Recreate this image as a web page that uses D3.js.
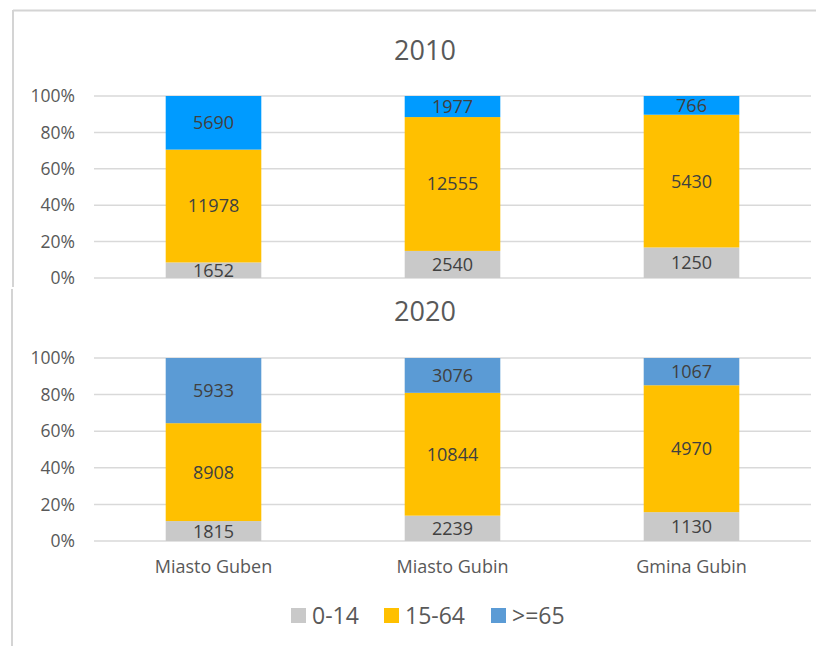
<!DOCTYPE html>
<html>
<head>
<meta charset="utf-8">
<script src="https://cdn.jsdelivr.net/npm/d3@7"></script>
<style>
  body { margin: 0; background: #fff; }
  svg { display: block; font-family: "Open Sans", sans-serif; }
</style>
</head>
<body>
<div id="chart"></div>
<script>
(function() {

  var width = 816,
      height = 646

  var categories = ["Miasto Guben", "Miasto Gubin", "Gmina Gubin"]
  var groups = ["0-14", "15-64", ">=65"]
  var yearLabels = ["2010", "2020"]

  // population per age group, one value per category
  var young2010 = [1652, 2540, 1250]
  var working2010 = [11978, 12555, 5430]
  var old2010 = [5690, 1977, 766]

  var young2020 = [1815, 2239, 1130]
  var working2020 = [8908, 10844, 4970]
  var old2020 = [5933, 3076, 1067]

  var percentTicks = [0, 0.2, 0.4, 0.6, 0.8, 1]

  var grey = "#c9c9c9",
      gold = "#ffc000",
      textColor = "#595959",
      gridColor = "#d9d9d9"

  var panels = [
    { title: yearLabels[0], young: young2010, working: working2010, old: old2010,
      oldColor: "#009bff", titleY: 60, top: 96, bottom: 278, xLabels: false },
    { title: yearLabels[1], young: young2020, working: working2020, old: old2020,
      oldColor: "#5b9bd5", titleY: 321, top: 358, bottom: 541, xLabels: true }
  ]

  var svg = d3.select("#chart")
    .append("svg")
    .attr("width", width)
    .attr("height", height)

  // frame lines of the original chart boxes
  svg.append("line")
    .attr("x1", 13).attr("x2", width).attr("y1", 10.5).attr("y2", 10.5)
    .attr("stroke", "#d4d4d4").attr("stroke-width", 2)
  svg.append("line")
    .attr("x1", 13).attr("x2", 13).attr("y1", 10).attr("y2", 287)
    .attr("stroke", "#d4d4d4").attr("stroke-width", 2)
  svg.append("line")
    .attr("x1", 12).attr("x2", 12).attr("y1", 289).attr("y2", height)
    .attr("stroke", "#d4d4d4").attr("stroke-width", 2)

  var xScale = d3.scaleBand()
    .domain(categories)
    .range([94, 811])
    .paddingInner(0.6)
    .paddingOuter(0.3)

  panels.forEach(function(p) {
    var colors = d3.scaleOrdinal().domain(groups).range([grey, gold, p.oldColor])

    var rows = categories.map(function(c, i) {
      return { category: c, "0-14": p.young[i], "15-64": p.working[i], ">=65": p.old[i] }
    })

    var series = d3.stack()
      .keys(groups)
      .offset(d3.stackOffsetExpand)(rows)

    var yScale = d3.scaleLinear().domain([0, 1]).range([p.bottom, p.top])

    var g = svg.append("g")

    // title
    g.append("text")
      .attr("x", 425)
      .attr("y", p.titleY)
      .attr("text-anchor", "middle")
      .attr("font-size", 27)
      .attr("fill", textColor)
      .text(p.title)

    // gridlines
    g.selectAll(".grid")
      .data(percentTicks)
      .enter().append("line")
      .attr("x1", 94)
      .attr("x2", 811)
      .attr("y1", function(d) { return yScale(d) })
      .attr("y2", function(d) { return yScale(d) })
      .attr("stroke", gridColor)
      .attr("stroke-width", 1.5)

    // y axis labels
    var yAxis = g.append("g")
      .attr("transform", "translate(94,0)")
      .call(d3.axisLeft(yScale).tickValues(percentTicks).tickFormat(d3.format(".0%")).tickSize(0).tickPadding(19))
    yAxis.select(".domain").remove()
    yAxis.selectAll("text")
      .attr("font-size", 17.5)
      .attr("font-family", "Open Sans, sans-serif")
      .attr("fill", textColor)

    // bars
    var layers = g.selectAll(".layer")
      .data(series)
      .enter().append("g")
      .attr("fill", function(d) { return colors(d.key) })

    layers.selectAll("rect")
      .data(function(d) { return d })
      .enter().append("rect")
      .attr("x", function(d) { return xScale(d.data.category) })
      .attr("width", xScale.bandwidth())
      .attr("y", function(d) { return yScale(d[1]) })
      .attr("height", function(d) { return yScale(d[0]) - yScale(d[1]) })

    // value labels
    series.forEach(function(s) {
      g.selectAll(".lbl-" + s.index)
        .data(s)
        .enter().append("text")
        .attr("x", function(d) { return xScale(d.data.category) + xScale.bandwidth() / 2 })
        .attr("y", function(d) { return (yScale(d[0]) + yScale(d[1])) / 2 })
        .attr("dy", "0.36em")
        .attr("text-anchor", "middle")
        .attr("font-size", 18)
        .attr("fill", "#404040")
        .text(function(d) { return d.data[s.key] })
    })

    if (p.xLabels) {
      g.selectAll(".cat")
        .data(categories)
        .enter().append("text")
        .attr("x", function(d) { return xScale(d) + xScale.bandwidth() / 2 })
        .attr("y", 573)
        .attr("text-anchor", "middle")
        .attr("font-size", 18)
        .attr("fill", textColor)
        .text(function(d) { return d })
    }
  })

  // legend
  var legendColors = [grey, gold, "#5b9bd5"]
  var legendX = [291, 384, 491]

  var legend = svg.selectAll(".legend")
    .data(groups)
    .enter().append("g")
    .attr("transform", function(d, i) { return "translate(" + legendX[i] + ",608)" })

  legend.append("rect")
    .attr("width", 15)
    .attr("height", 15)
    .attr("fill", function(d, i) { return legendColors[i] })

  legend.append("text")
    .attr("x", 21)
    .attr("y", 15.5)
    .attr("font-size", 23)
    .attr("fill", textColor)
    .text(function(d) { return d })

})()
</script>
</body>
</html>
